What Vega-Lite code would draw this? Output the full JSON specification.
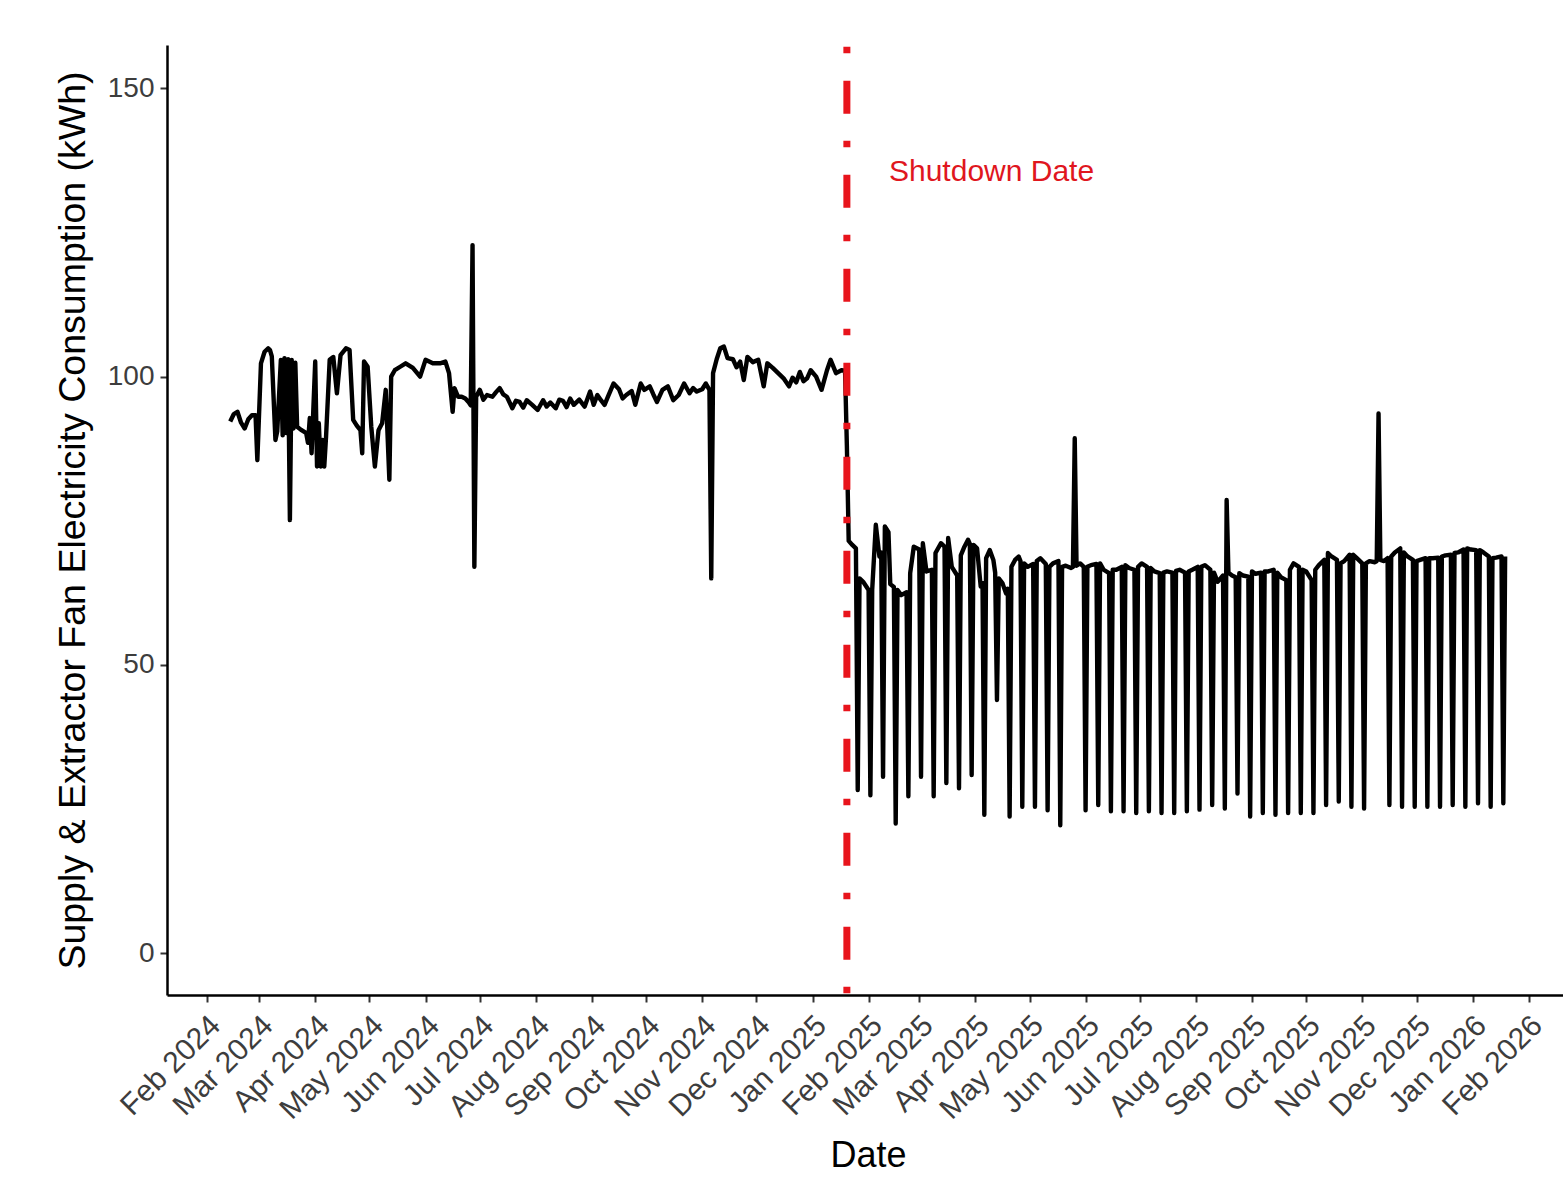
{
  "$schema": "https://vega.github.io/schema/vega-lite/v6.json",
  "width": 1396,
  "height": 950,
  "autosize": {"type": "none"},
  "padding": {"left": 167, "top": 45, "right": 0, "bottom": 198},
  "background": "white",
  "config": {
    "view": {"stroke": null},
    "font": "Liberation Sans",
    "axis": {
      "grid": false,
      "domainColor": "black",
      "domainWidth": 2.5,
      "tickColor": "#333333",
      "tickWidth": 2,
      "tickSize": 7,
      "labelFont": "Liberation Sans",
      "labelFontSize": 28,
      "labelColor": "#3d3d3d",
      "titleFont": "Liberation Sans",
      "titleFontWeight": "normal",
      "titleColor": "black"
    }
  },
  "datasets": {
    "fan": [
      {"d": "2024-02-14", "v": 92.2}, {"d": "2024-02-16", "v": 93.5}, {"d": "2024-02-18", "v": 93.9}, {"d": "2024-02-20", "v": 92.0},
      {"d": "2024-02-22", "v": 91.0}, {"d": "2024-02-24", "v": 92.6}, {"d": "2024-02-26", "v": 93.3}, {"d": "2024-02-28", "v": 93.3},
      {"d": "2024-02-29", "v": 85.5}, {"d": "2024-03-02", "v": 102.3}, {"d": "2024-03-04", "v": 104.3}, {"d": "2024-03-06", "v": 104.9},
      {"d": "2024-03-07", "v": 104.6}, {"d": "2024-03-08", "v": 103.5}, {"d": "2024-03-10", "v": 89.0}, {"d": "2024-03-11", "v": 90.5},
      {"d": "2024-03-13", "v": 102.9}, {"d": "2024-03-14", "v": 89.8}, {"d": "2024-03-15", "v": 103.2}, {"d": "2024-03-16", "v": 90.2},
      {"d": "2024-03-17", "v": 103.0}, {"d": "2024-03-18", "v": 75.1}, {"d": "2024-03-19", "v": 102.9}, {"d": "2024-03-20", "v": 91.0},
      {"d": "2024-03-21", "v": 102.4}, {"d": "2024-03-22", "v": 91.3}, {"d": "2024-03-24", "v": 90.8}, {"d": "2024-03-26", "v": 90.4},
      {"d": "2024-03-27", "v": 90.2}, {"d": "2024-03-28", "v": 88.5}, {"d": "2024-03-29", "v": 92.8}, {"d": "2024-03-30", "v": 86.7},
      {"d": "2024-04-01", "v": 102.6}, {"d": "2024-04-02", "v": 84.4}, {"d": "2024-04-03", "v": 91.9}, {"d": "2024-04-04", "v": 84.4},
      {"d": "2024-04-05", "v": 89.0}, {"d": "2024-04-06", "v": 84.4}, {"d": "2024-04-07", "v": 89.6}, {"d": "2024-04-09", "v": 102.9},
      {"d": "2024-04-11", "v": 103.4}, {"d": "2024-04-13", "v": 97.1}, {"d": "2024-04-15", "v": 103.7}, {"d": "2024-04-17", "v": 104.5},
      {"d": "2024-04-18", "v": 104.9}, {"d": "2024-04-20", "v": 104.6}, {"d": "2024-04-22", "v": 92.5}, {"d": "2024-04-24", "v": 91.5},
      {"d": "2024-04-26", "v": 90.7}, {"d": "2024-04-27", "v": 86.7}, {"d": "2024-04-28", "v": 102.6}, {"d": "2024-04-30", "v": 101.7},
      {"d": "2024-05-02", "v": 91.3}, {"d": "2024-05-04", "v": 84.4}, {"d": "2024-05-06", "v": 90.7}, {"d": "2024-05-08", "v": 91.9},
      {"d": "2024-05-10", "v": 97.7}, {"d": "2024-05-12", "v": 82.1}, {"d": "2024-05-13", "v": 100.0}, {"d": "2024-05-15", "v": 101.1},
      {"d": "2024-05-18", "v": 101.7}, {"d": "2024-05-21", "v": 102.3}, {"d": "2024-05-25", "v": 101.5}, {"d": "2024-05-29", "v": 100.0},
      {"d": "2024-06-01", "v": 102.9}, {"d": "2024-06-05", "v": 102.3}, {"d": "2024-06-09", "v": 102.3}, {"d": "2024-06-12", "v": 102.6},
      {"d": "2024-06-14", "v": 100.6}, {"d": "2024-06-16", "v": 93.9}, {"d": "2024-06-17", "v": 98.0}, {"d": "2024-06-19", "v": 96.5},
      {"d": "2024-06-21", "v": 96.5}, {"d": "2024-06-23", "v": 96.2}, {"d": "2024-06-25", "v": 95.5}, {"d": "2024-06-26", "v": 95.0},
      {"d": "2024-06-27", "v": 122.8}, {"d": "2024-06-28", "v": 67.0}, {"d": "2024-06-29", "v": 96.5}, {"d": "2024-07-01", "v": 97.7},
      {"d": "2024-07-03", "v": 96.0}, {"d": "2024-07-05", "v": 96.8}, {"d": "2024-07-08", "v": 96.5}, {"d": "2024-07-10", "v": 97.3},
      {"d": "2024-07-12", "v": 98.0}, {"d": "2024-07-14", "v": 96.9}, {"d": "2024-07-16", "v": 96.5}, {"d": "2024-07-19", "v": 94.5},
      {"d": "2024-07-21", "v": 95.8}, {"d": "2024-07-23", "v": 95.6}, {"d": "2024-07-25", "v": 94.6}, {"d": "2024-07-27", "v": 95.9},
      {"d": "2024-07-30", "v": 95.1}, {"d": "2024-08-02", "v": 94.2}, {"d": "2024-08-05", "v": 95.9}, {"d": "2024-08-07", "v": 94.8},
      {"d": "2024-08-09", "v": 95.5}, {"d": "2024-08-12", "v": 94.5}, {"d": "2024-08-14", "v": 96.0}, {"d": "2024-08-16", "v": 95.8},
      {"d": "2024-08-18", "v": 94.7}, {"d": "2024-08-20", "v": 96.2}, {"d": "2024-08-22", "v": 95.1}, {"d": "2024-08-25", "v": 96.0},
      {"d": "2024-08-28", "v": 94.8}, {"d": "2024-08-31", "v": 97.4}, {"d": "2024-09-02", "v": 95.1}, {"d": "2024-09-04", "v": 96.8},
      {"d": "2024-09-06", "v": 95.9}, {"d": "2024-09-08", "v": 95.1}, {"d": "2024-09-10", "v": 96.6}, {"d": "2024-09-13", "v": 98.8},
      {"d": "2024-09-16", "v": 97.8}, {"d": "2024-09-18", "v": 96.2}, {"d": "2024-09-20", "v": 96.8}, {"d": "2024-09-23", "v": 97.5},
      {"d": "2024-09-25", "v": 95.1}, {"d": "2024-09-28", "v": 98.8}, {"d": "2024-09-30", "v": 97.7}, {"d": "2024-10-03", "v": 98.3},
      {"d": "2024-10-05", "v": 96.9}, {"d": "2024-10-07", "v": 95.6}, {"d": "2024-10-10", "v": 97.7}, {"d": "2024-10-13", "v": 98.3},
      {"d": "2024-10-16", "v": 95.9}, {"d": "2024-10-19", "v": 96.8}, {"d": "2024-10-22", "v": 98.8}, {"d": "2024-10-25", "v": 97.1},
      {"d": "2024-10-27", "v": 98.0}, {"d": "2024-10-29", "v": 97.4}, {"d": "2024-11-01", "v": 97.8}, {"d": "2024-11-03", "v": 98.8},
      {"d": "2024-11-05", "v": 97.7}, {"d": "2024-11-06", "v": 65.0}, {"d": "2024-11-07", "v": 100.6}, {"d": "2024-11-09", "v": 103.0},
      {"d": "2024-11-11", "v": 104.9}, {"d": "2024-11-13", "v": 105.2}, {"d": "2024-11-15", "v": 103.2}, {"d": "2024-11-18", "v": 103.0},
      {"d": "2024-11-20", "v": 101.6}, {"d": "2024-11-22", "v": 102.6}, {"d": "2024-11-24", "v": 99.4}, {"d": "2024-11-26", "v": 103.4},
      {"d": "2024-11-29", "v": 102.5}, {"d": "2024-12-02", "v": 102.9}, {"d": "2024-12-05", "v": 98.3}, {"d": "2024-12-07", "v": 102.3},
      {"d": "2024-12-10", "v": 101.5}, {"d": "2024-12-13", "v": 100.6}, {"d": "2024-12-16", "v": 99.7}, {"d": "2024-12-19", "v": 98.3},
      {"d": "2024-12-21", "v": 99.8}, {"d": "2024-12-23", "v": 99.0}, {"d": "2024-12-25", "v": 100.8}, {"d": "2024-12-27", "v": 99.2},
      {"d": "2024-12-29", "v": 99.7}, {"d": "2024-12-31", "v": 101.1}, {"d": "2025-01-03", "v": 100.0}, {"d": "2025-01-06", "v": 97.7},
      {"d": "2025-01-09", "v": 101.1}, {"d": "2025-01-11", "v": 102.9}, {"d": "2025-01-14", "v": 100.6}, {"d": "2025-01-17", "v": 101.1},
      {"d": "2025-01-19", "v": 101.0}, {"d": "2025-01-20", "v": 88.0},
      {"d": "2025-01-21", "v": 71.5}, {"d": "2025-01-23", "v": 70.8}, {"d": "2025-01-25", "v": 70.2}, {"d": "2025-01-26", "v": 28.3},
      {"d": "2025-01-27", "v": 65.0}, {"d": "2025-01-29", "v": 64.4}, {"d": "2025-02-01", "v": 63.0}, {"d": "2025-02-02", "v": 27.4},
      {"d": "2025-02-03", "v": 63.0}, {"d": "2025-02-05", "v": 74.3}, {"d": "2025-02-07", "v": 68.8}, {"d": "2025-02-08", "v": 69.5},
      {"d": "2025-02-09", "v": 30.6}, {"d": "2025-02-10", "v": 74.0}, {"d": "2025-02-12", "v": 73.0}, {"d": "2025-02-13", "v": 64.0},
      {"d": "2025-02-15", "v": 63.5}, {"d": "2025-02-16", "v": 22.5}, {"d": "2025-02-17", "v": 63.0}, {"d": "2025-02-19", "v": 62.1},
      {"d": "2025-02-22", "v": 62.6}, {"d": "2025-02-23", "v": 27.2}, {"d": "2025-02-24", "v": 65.9}, {"d": "2025-02-26", "v": 70.5},
      {"d": "2025-03-01", "v": 70.0}, {"d": "2025-03-02", "v": 30.6}, {"d": "2025-03-03", "v": 71.1}, {"d": "2025-03-05", "v": 66.2},
      {"d": "2025-03-08", "v": 66.5}, {"d": "2025-03-09", "v": 27.2}, {"d": "2025-03-10", "v": 69.4}, {"d": "2025-03-13", "v": 71.1},
      {"d": "2025-03-15", "v": 70.5}, {"d": "2025-03-16", "v": 29.5}, {"d": "2025-03-17", "v": 72.0}, {"d": "2025-03-19", "v": 67.0},
      {"d": "2025-03-22", "v": 65.5}, {"d": "2025-03-23", "v": 28.6}, {"d": "2025-03-24", "v": 69.0}, {"d": "2025-03-26", "v": 70.5},
      {"d": "2025-03-28", "v": 71.7}, {"d": "2025-03-29", "v": 71.0}, {"d": "2025-03-30", "v": 30.9}, {"d": "2025-03-31", "v": 70.8},
      {"d": "2025-04-02", "v": 70.2}, {"d": "2025-04-04", "v": 63.6}, {"d": "2025-04-05", "v": 64.2}, {"d": "2025-04-06", "v": 24.0},
      {"d": "2025-04-07", "v": 68.5}, {"d": "2025-04-09", "v": 69.9}, {"d": "2025-04-11", "v": 68.2}, {"d": "2025-04-12", "v": 66.0},
      {"d": "2025-04-13", "v": 43.9}, {"d": "2025-04-14", "v": 65.0}, {"d": "2025-04-16", "v": 64.2}, {"d": "2025-04-18", "v": 62.4},
      {"d": "2025-04-19", "v": 63.2}, {"d": "2025-04-20", "v": 23.7}, {"d": "2025-04-21", "v": 67.0}, {"d": "2025-04-23", "v": 68.2},
      {"d": "2025-04-25", "v": 68.8}, {"d": "2025-04-26", "v": 68.0}, {"d": "2025-04-27", "v": 25.4}, {"d": "2025-04-28", "v": 67.6},
      {"d": "2025-04-30", "v": 67.0}, {"d": "2025-05-03", "v": 67.5}, {"d": "2025-05-04", "v": 25.4}, {"d": "2025-05-05", "v": 68.0},
      {"d": "2025-05-07", "v": 68.5}, {"d": "2025-05-10", "v": 67.5}, {"d": "2025-05-11", "v": 24.8}, {"d": "2025-05-12", "v": 67.0},
      {"d": "2025-05-14", "v": 67.6}, {"d": "2025-05-17", "v": 68.0}, {"d": "2025-05-18", "v": 22.2}, {"d": "2025-05-19", "v": 67.0},
      {"d": "2025-05-21", "v": 67.2}, {"d": "2025-05-24", "v": 66.8}, {"d": "2025-05-25", "v": 67.0}, {"d": "2025-05-26", "v": 89.3},
      {"d": "2025-05-27", "v": 67.2}, {"d": "2025-05-29", "v": 67.6}, {"d": "2025-05-31", "v": 67.0}, {"d": "2025-06-01", "v": 24.8},
      {"d": "2025-06-02", "v": 67.0}, {"d": "2025-06-04", "v": 67.3}, {"d": "2025-06-07", "v": 67.5}, {"d": "2025-06-08", "v": 25.7},
      {"d": "2025-06-09", "v": 67.6}, {"d": "2025-06-11", "v": 66.5}, {"d": "2025-06-14", "v": 65.9}, {"d": "2025-06-15", "v": 24.6},
      {"d": "2025-06-16", "v": 66.5}, {"d": "2025-06-18", "v": 66.5}, {"d": "2025-06-21", "v": 67.0}, {"d": "2025-06-22", "v": 24.6},
      {"d": "2025-06-23", "v": 67.3}, {"d": "2025-06-25", "v": 66.8}, {"d": "2025-06-28", "v": 66.5}, {"d": "2025-06-29", "v": 24.3},
      {"d": "2025-06-30", "v": 67.0}, {"d": "2025-07-02", "v": 67.6}, {"d": "2025-07-05", "v": 67.0}, {"d": "2025-07-06", "v": 24.6},
      {"d": "2025-07-07", "v": 66.8}, {"d": "2025-07-09", "v": 66.2}, {"d": "2025-07-12", "v": 65.9}, {"d": "2025-07-13", "v": 24.3},
      {"d": "2025-07-14", "v": 66.0}, {"d": "2025-07-16", "v": 66.2}, {"d": "2025-07-19", "v": 66.0}, {"d": "2025-07-20", "v": 24.3},
      {"d": "2025-07-21", "v": 66.3}, {"d": "2025-07-23", "v": 66.5}, {"d": "2025-07-26", "v": 66.0}, {"d": "2025-07-27", "v": 24.6},
      {"d": "2025-07-28", "v": 66.2}, {"d": "2025-07-30", "v": 66.5}, {"d": "2025-08-02", "v": 67.0}, {"d": "2025-08-03", "v": 24.9},
      {"d": "2025-08-04", "v": 67.0}, {"d": "2025-08-06", "v": 67.3}, {"d": "2025-08-09", "v": 66.5}, {"d": "2025-08-10", "v": 25.7},
      {"d": "2025-08-11", "v": 66.0}, {"d": "2025-08-13", "v": 64.4}, {"d": "2025-08-16", "v": 65.5}, {"d": "2025-08-17", "v": 25.1},
      {"d": "2025-08-18", "v": 78.6}, {"d": "2025-08-19", "v": 66.0}, {"d": "2025-08-21", "v": 65.5}, {"d": "2025-08-23", "v": 65.2},
      {"d": "2025-08-24", "v": 27.7}, {"d": "2025-08-25", "v": 65.9}, {"d": "2025-08-27", "v": 65.5}, {"d": "2025-08-30", "v": 65.3},
      {"d": "2025-08-31", "v": 23.7}, {"d": "2025-09-01", "v": 66.2}, {"d": "2025-09-03", "v": 65.8}, {"d": "2025-09-06", "v": 66.0},
      {"d": "2025-09-07", "v": 24.3}, {"d": "2025-09-08", "v": 66.2}, {"d": "2025-09-10", "v": 66.2}, {"d": "2025-09-13", "v": 66.5},
      {"d": "2025-09-14", "v": 24.0}, {"d": "2025-09-15", "v": 66.0}, {"d": "2025-09-17", "v": 65.2}, {"d": "2025-09-20", "v": 64.7},
      {"d": "2025-09-21", "v": 24.3}, {"d": "2025-09-22", "v": 66.5}, {"d": "2025-09-24", "v": 67.6}, {"d": "2025-09-27", "v": 67.0},
      {"d": "2025-09-28", "v": 24.3}, {"d": "2025-09-29", "v": 66.5}, {"d": "2025-10-01", "v": 66.2}, {"d": "2025-10-04", "v": 64.7},
      {"d": "2025-10-05", "v": 24.3}, {"d": "2025-10-06", "v": 66.5}, {"d": "2025-10-08", "v": 67.3}, {"d": "2025-10-11", "v": 68.2},
      {"d": "2025-10-12", "v": 25.7}, {"d": "2025-10-13", "v": 69.4}, {"d": "2025-10-15", "v": 68.8}, {"d": "2025-10-18", "v": 68.2},
      {"d": "2025-10-19", "v": 26.3}, {"d": "2025-10-20", "v": 67.6}, {"d": "2025-10-22", "v": 68.0}, {"d": "2025-10-25", "v": 69.1},
      {"d": "2025-10-26", "v": 25.4}, {"d": "2025-10-27", "v": 69.1}, {"d": "2025-10-29", "v": 68.5}, {"d": "2025-11-01", "v": 67.6},
      {"d": "2025-11-02", "v": 25.1}, {"d": "2025-11-03", "v": 67.6}, {"d": "2025-11-05", "v": 68.0}, {"d": "2025-11-08", "v": 67.8},
      {"d": "2025-11-09", "v": 68.0}, {"d": "2025-11-10", "v": 93.6}, {"d": "2025-11-11", "v": 68.2}, {"d": "2025-11-13", "v": 68.0},
      {"d": "2025-11-15", "v": 68.5}, {"d": "2025-11-16", "v": 25.7}, {"d": "2025-11-17", "v": 68.8}, {"d": "2025-11-19", "v": 69.5},
      {"d": "2025-11-22", "v": 70.2}, {"d": "2025-11-23", "v": 25.4}, {"d": "2025-11-24", "v": 69.5}, {"d": "2025-11-26", "v": 68.8},
      {"d": "2025-11-29", "v": 68.2}, {"d": "2025-11-30", "v": 25.4}, {"d": "2025-12-01", "v": 68.0}, {"d": "2025-12-03", "v": 68.2},
      {"d": "2025-12-06", "v": 68.5}, {"d": "2025-12-07", "v": 25.4}, {"d": "2025-12-08", "v": 68.5}, {"d": "2025-12-10", "v": 68.5},
      {"d": "2025-12-13", "v": 68.6}, {"d": "2025-12-14", "v": 25.4}, {"d": "2025-12-15", "v": 68.8}, {"d": "2025-12-17", "v": 69.0},
      {"d": "2025-12-20", "v": 69.1}, {"d": "2025-12-21", "v": 25.7}, {"d": "2025-12-22", "v": 69.4}, {"d": "2025-12-24", "v": 69.5},
      {"d": "2025-12-27", "v": 70.0}, {"d": "2025-12-28", "v": 25.4}, {"d": "2025-12-29", "v": 70.2}, {"d": "2025-12-31", "v": 70.0},
      {"d": "2026-01-03", "v": 69.9}, {"d": "2026-01-04", "v": 26.0}, {"d": "2026-01-05", "v": 69.9}, {"d": "2026-01-07", "v": 69.5},
      {"d": "2026-01-10", "v": 68.8}, {"d": "2026-01-11", "v": 25.4}, {"d": "2026-01-12", "v": 68.5}, {"d": "2026-01-14", "v": 68.6},
      {"d": "2026-01-17", "v": 68.8}, {"d": "2026-01-18", "v": 26.0}, {"d": "2026-01-19", "v": 68.8}
    ],
    "shutdown": [
      {"d": "2025-01-20", "labelDate": "2025-04-10", "labelValue": 135.5, "label": "Shutdown Date"}
    ]
  },
  "layer": [
    {
      "data": {"name": "fan"},
      "mark": {"type": "line", "color": "black", "strokeWidth": 4.4, "strokeJoin": "round", "strokeCap": "butt"},
      "encoding": {
        "x": {
          "field": "d",
          "type": "temporal",
          "scale": {
            "type": "utc",
            "domain": [
              {"year": 2024, "month": 1, "date": 10, "hours": 1, "utc": true},
              {"year": 2026, "month": 2, "date": 20, "utc": true}
            ]
          },
          "axis": {
            "title": "Date",
            "titleFontSize": 36,
            "titleX": 701,
            "titleY": 171,
            "titleBaseline": "alphabetic",
            "labelExpr": "utcFormat(datum.value, '%b %Y')",
            "tickCount": {"interval": "month", "step": 1},
            "labelFontSize": 30,
            "labelAngle": -45,
            "labelAlign": "right",
            "labelBaseline": "top",
            "labelOverlap": false,
            "labelFlush": false,
            "labelBound": false,
            "labelPadding": 8,
            "labelOffset": -2
          }
        },
        "y": {
          "field": "v",
          "type": "quantitative",
          "scale": {"domain": [-7.25, 157.5], "nice": false, "zero": false},
          "axis": {
            "title": "Supply & Extractor Fan Electricity Consumption (kWh)",
            "titleFontSize": 37.5,
            "titleX": -83,
            "titleY": 475,
            "titleBaseline": "alphabetic",
            "values": [0, 50, 100, 150],
            "labelPadding": 6
          }
        }
      }
    },
    {
      "data": {"name": "shutdown"},
      "mark": {"type": "rule", "color": "#e8141c", "strokeWidth": 7, "strokeDash": [6.6, 27.4, 33, 27], "strokeDashOffset": 92.3},
      "encoding": {
        "x": {"field": "d", "type": "temporal"}
      }
    },
    {
      "data": {"name": "shutdown"},
      "mark": {"type": "text", "color": "#e0161e", "font": "Liberation Sans", "fontSize": 30, "align": "center", "baseline": "middle"},
      "encoding": {
        "x": {"field": "labelDate", "type": "temporal"},
        "y": {"field": "labelValue", "type": "quantitative"},
        "text": {"field": "label"}
      }
    }
  ]
}
